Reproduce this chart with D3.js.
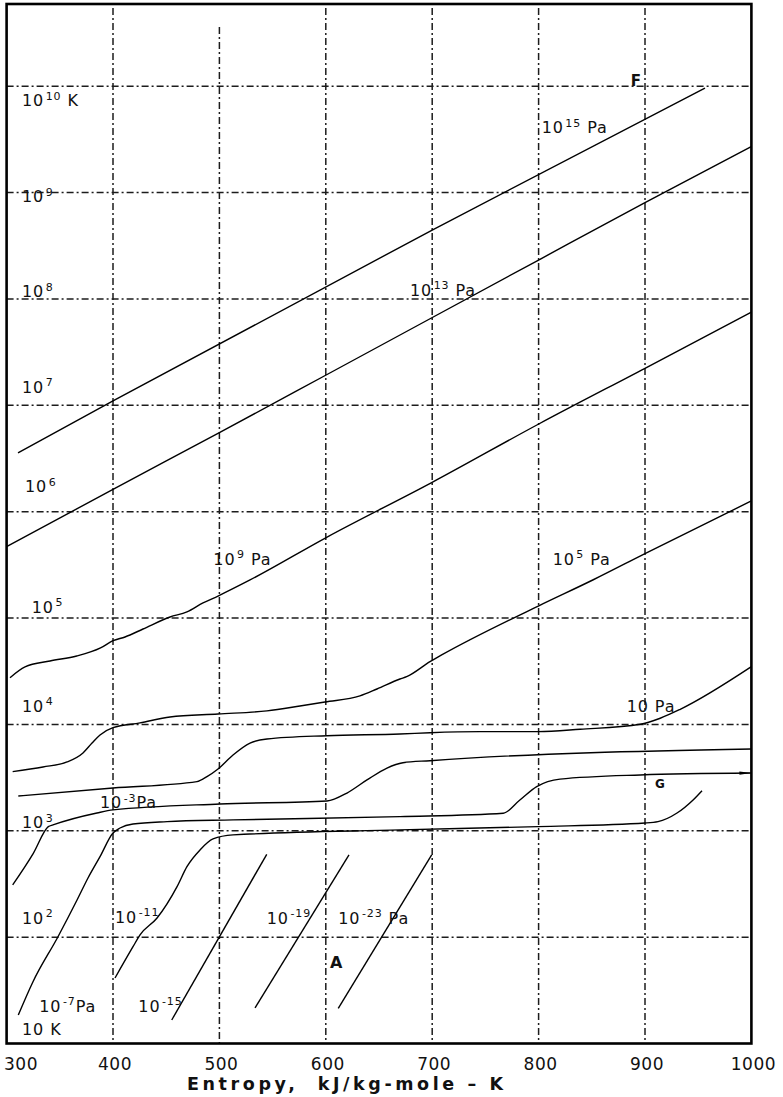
<!DOCTYPE html>
<html><head><meta charset="utf-8">
<script src="https://cdn.jsdelivr.net/npm/d3@7/dist/d3.min.js"></script>
<style>
html,body{margin:0;padding:0;background:#fff}
svg{display:block}
text{font-family:"DejaVu Sans",Verdana,sans-serif;fill:#111}
</style>
</head><body>
<svg id="chart" width="783" height="1097"></svg>
<script>
// ---------- data (entropy S in kJ/kg-mole-K, log10 of temperature in K) ----------
const entropyTicks = [300, 400, 500, 600, 700, 800, 900, 1000];
const entropyGrid = [400, 500, 600, 700, 800, 900];
const tempGridExp = [2, 3, 4, 5, 6, 7, 8, 9, 10];

const isobar_1e15 = [[310.7,6.552],[400,7.041],[700,8.648],[956.4,9.983]];
const isobar_1e13 = [[300,5.671],[400,6.21],[500,6.743],[600.3,7.285],[800,8.366],[900,8.905],[1000,9.432]];
const isobar_1e9 = [[303.2,4.439],[317.3,4.54],[340.8,4.596],[365.9,4.643],[388.3,4.719],[400,4.787],[411.3,4.822],
  [428.2,4.897],[453.6,5.01],[469.5,5.057],[484.6,5.142],[498.7,5.207],[528.8,5.358],[600.8,5.759],[699.5,6.273],
  [799.7,6.822],[900,7.348],[1000,7.875]];
const isobar_1e5 = [[305.7,3.556],[334.2,3.6],[356.8,3.647],[371.8,3.732],[380.3,3.825],[387.8,3.901],[400,3.969],
  [425.4,4.014],[453.6,4.07],[498.7,4.098],[544.7,4.127],[575.7,4.173],[599.2,4.211],[632.1,4.268],[648.1,4.333],
  [669.7,4.427],[676,4.449],[697.9,4.59],[708.9,4.653],[799.7,5.113],[851.4,5.36],[900,5.606],[1000,6.101]];
const isobar_1e1 = [[311,3.327],[400,3.402],[478.9,3.462],[488.3,3.509],[498.7,3.581],[512.8,3.713],[528.8,3.825],
  [544.7,3.863],[601.1,3.894],[669.7,3.91],[697.9,3.922],[744.9,3.932],[799.7,3.932],[839.1,3.954],[895.5,4.001],
  [914.3,4.058],[933.1,4.142],[1000,4.543]];
const isobar_1em3 = [[305.7,2.491],[325.1,2.788],[339.2,3.039],[343.6,3.055],[384.9,3.167],[400,3.196],[500.6,3.252],
  [601.1,3.28],[619.9,3.355],[638.7,3.478],[657.5,3.59],[672.5,3.64],[697.9,3.659],[1000,3.769]];
const isobar_1em7 = [[311,1.268],[324.8,1.581],[348.3,2.004],[366.2,2.349],[376.5,2.556],[387.8,2.757],[400,2.979],
  [406.6,3.026],[418.8,3.064],[450.8,3.086],[512.8,3.102],[669.7,3.133],[766.8,3.165],[782.4,3.289],[798.2,3.415],
  [820.1,3.486],[895.5,3.525],[1000,3.543]];
const isobar_1em11 = [[401.9,1.616],[418.8,1.91],[425.4,2.021],[441.4,2.18],[460.2,2.475],[469.5,2.663],[481.8,2.82],
  [494,2.923],[512.8,2.961],[669.7,3.008],[799.4,3.039],[900,3.073],[912.2,3.086],[930.1,3.167],[945.2,3.29],[953.6,3.377]];
const isobar_1em15 = [[455.2,1.221],[544.5,2.779]];
const isobar_1em19 = [[533.5,1.334],[621.8,2.773]];
const isobar_1em23 = [[611.7,1.331],[699.5,2.773]];

// temperature labels along the left (text, S, log10 T)
const tempLabels = [
  ["10^{10} K",314.5,9.812],["10^{9}",314.5,8.91],["10^{8}",314.5,8.018],["10^{7}",314.5,7.116],
  ["10^{6}",317.3,6.185],["10^{5}",323.6,5.05],["10^{4}",314.5,4.117],["10^{3}",314.5,3.026],
  ["10^{2}",314.5,2.124],["10 K",314.5,1.08]];
// pressure labels (text, S, log10 T)
const pressureLabels = [
  ["10^{15} Pa",802.9,9.56],["10^{13} Pa",679.1,8.028],["10^{9} Pa",494.3,5.499],["10^{5} Pa",813.2,5.499],
  ["10 Pa",882.8,4.117],["10^{-3}Pa",387.8,3.214],["10^{-7}Pa",330.7,1.297],["10^{-11}",401.9,2.133],
  ["10^{-15}",423.8,1.299],["10^{-19}",544.5,2.124],["10^{-23} Pa",611.7,2.124]];
// point letters (text, S, log10 T, font size)
const pointLabels = [["F",886.5,10.002,15],["G",909.4,3.401,12],["A",603.9,1.71,16]];

const xTitle = "Entropy,  kJ/kg-mole \u2013 K";

// ---------- drawing ----------
const svg = d3.select("#chart");
const x = d3.scaleLinear().domain([300, 1000]).range([6.6, 751.4]);
const y = d3.scaleLog().domain([10, Math.pow(10, 10.773)]).range([1043.5, 4]);
const Y = lg => y(Math.pow(10, lg));

const grid = svg.append("g").attr("stroke", "#1c1c1c").attr("stroke-width", 1.5)
  .attr("stroke-dasharray", "7,3,2,3").attr("fill", "none");
grid.selectAll("line.h").data(tempGridExp).join("line").attr("class","h")
  .attr("x1", x(300)).attr("x2", x(1000))
  .attr("y1", d => Y(d)).attr("y2", d => Y(d));
grid.selectAll("line.v").data(entropyGrid).join("line").attr("class","v")
  .attr("x1", d => x(d)).attr("x2", d => x(d))
  .attr("y1", d => d === 500 ? 27 : 8).attr("y2", y(10));

// arrow marker for G end
svg.append("defs").append("marker").attr("id","arr").attr("markerUnits","userSpaceOnUse")
  .attr("viewBox","-12 -3 13 6").attr("refX",0).attr("refY",0)
  .attr("markerWidth",13).attr("markerHeight",6).attr("orient","auto")
  .append("path").attr("d","M-12,-1.6L0,0L-12,1.6Z").attr("fill","#000");

const line = d3.line().x(d => x(d[0])).y(d => Y(d[1])).curve(d3.curveMonotoneX);
const curves = [isobar_1e15, isobar_1e13, isobar_1e9, isobar_1e5, isobar_1e1, isobar_1em3,
  isobar_1em7, isobar_1em11, isobar_1em15, isobar_1em19, isobar_1em23];
svg.append("g").selectAll("path").data(curves).join("path")
  .attr("d", line).attr("fill", "none").attr("stroke", "#000").attr("stroke-width", 1.4)
  .attr("stroke-linejoin","round")
  .attr("marker-end", d => d === isobar_1em7 ? "url(#arr)" : null);

// frame
svg.append("rect").attr("x", x(300)).attr("y", y.range()[1])
  .attr("width", x(1000) - x(300)).attr("height", y(10) - y.range()[1])
  .attr("fill", "none").attr("stroke", "#000").attr("stroke-width", 2.6);

function rich(g, str, px, py, size, supSize) {
  const t = g.append("text").attr("x", px).attr("y", py)
    .style("font-size", size + "px").style("letter-spacing", "0.9px");
  const re = /\^\{([^}]*)\}/g;
  let last = 0, m, shifted = false;
  while ((m = re.exec(str)) !== null) {
    if (m.index > last) {
      const s = t.append("tspan").text(str.slice(last, m.index));
      if (shifted) { s.attr("dy", 6.5); shifted = false; }
    }
    t.append("tspan").text(m[1]).attr("dy", -6.5).attr("dx", 1.5)
      .style("font-size", supSize + "px");
    shifted = true;
    last = re.lastIndex;
  }
  if (last < str.length) {
    const s = t.append("tspan").text(str.slice(last));
    if (shifted) s.attr("dy", 6.5);
  }
  return t;
}

const lab = svg.append("g");
tempLabels.forEach(d => rich(lab, d[0], x(d[1]), Y(d[2]), 16, 11));
pressureLabels.forEach(d => rich(lab, d[0], x(d[1]), Y(d[2]), 16, 11));
pointLabels.forEach(d => lab.append("text").attr("x", x(d[1])).attr("y", Y(d[2]))
  .style("font-size", d[3] + "px").style("font-weight", "bold").text(d[0]));

// x axis tick labels
svg.append("g").selectAll("text").data(entropyTicks).join("text")
  .attr("x", d => d === 300 ? 4 : x(d) + 2)
  .attr("y", 1070)
  .attr("text-anchor", d => d === 300 ? "start" : "middle")
  .style("font-size", "17px").style("letter-spacing", "0.5px")
  .text(d => d);

svg.append("text").attr("x", 187).attr("y", 1090)
  .attr("textLength", 316).attr("lengthAdjust", "spacing")
  .style("font-size", "17.5px").style("font-weight", "bold")
  .style("white-space", "pre").attr("xml:space", "preserve")
  .text(xTitle);
</script>
</body></html>
